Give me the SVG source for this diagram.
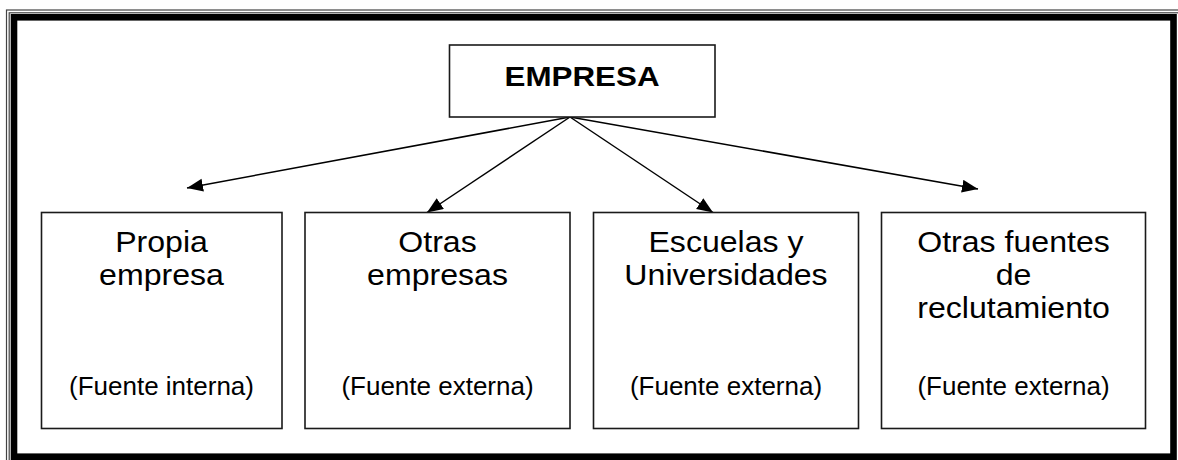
<svg xmlns="http://www.w3.org/2000/svg" width="1178" height="460" viewBox="0 0 1178 460">
<style>
.box{fill:#fff;stroke:#1a1a1a;stroke-width:1.6}
.t{font-family:"Liberation Sans",Arial,sans-serif;font-size:30px;fill:#000;text-anchor:middle}
.s{font-family:"Liberation Sans",Arial,sans-serif;font-size:26px;fill:#000;text-anchor:middle}
.b{font-family:"Liberation Sans",Arial,sans-serif;font-size:28px;font-weight:bold;fill:#000;text-anchor:middle}
.c{stroke:#000;stroke-width:1.5;fill:none;marker-end:url(#ah)}
</style>
<defs>
<marker id="ah" markerUnits="userSpaceOnUse" markerWidth="18" markerHeight="14" refX="16" refY="6.5" orient="auto">
<path d="M0,0 L16,6.5 L0,13 Z" fill="#000"/>
</marker>
</defs>
<rect width="1178" height="460" fill="#fff"/>
<g id="frame" fill="none">
<rect x="6.5" y="10" width="1190" height="470" stroke="#444" stroke-width="1.2"/>
<rect x="9.2" y="12.8" width="1185" height="465" stroke="#444" stroke-width="1.2"/>
<rect x="14" y="17.3" width="1159.5" height="439.4" stroke="#000" stroke-width="6.6"/>
</g>
<g id="connectors">
<line class="c" x1="570" y1="117" x2="187" y2="188"/>
<line class="c" x1="570" y1="117" x2="427" y2="212.5"/>
<line class="c" x1="570" y1="117" x2="713" y2="212.5"/>
<line class="c" x1="570" y1="117" x2="978" y2="189"/>
</g>
<g id="empresa">
<rect class="box" x="449.5" y="45" width="265.5" height="72"/>
<text class="b" transform="translate(582 86) scale(1.12 1)">EMPRESA</text>
</g>
<g id="propia">
<rect class="box" x="41.5" y="212.5" width="240.5" height="216"/>
<g transform="translate(161.5 0) scale(1.07 1)">
<text class="t" y="252">Propia</text>
<text class="t" y="285">empresa</text>
</g>
<text class="s" x="161.5" y="395">(Fuente interna)</text>
</g>
<g id="otras">
<rect class="box" x="305" y="212.5" width="265" height="216"/>
<g transform="translate(437.5 0) scale(1.07 1)">
<text class="t" y="252">Otras</text>
<text class="t" y="285">empresas</text>
</g>
<text class="s" x="437.5" y="395">(Fuente externa)</text>
</g>
<g id="escuelas">
<rect class="box" x="593.5" y="212.5" width="265" height="216"/>
<g transform="translate(726 0) scale(1.07 1)">
<text class="t" y="252">Escuelas y</text>
<text class="t" y="285">Universidades</text>
</g>
<text class="s" x="726" y="395">(Fuente externa)</text>
</g>
<g id="fuentes">
<rect class="box" x="881.5" y="212.5" width="264" height="216"/>
<g transform="translate(1013.5 0) scale(1.07 1)">
<text class="t" y="252">Otras fuentes</text>
<text class="t" y="285">de</text>
<text class="t" y="318">reclutamiento</text>
</g>
<text class="s" x="1013.5" y="395">(Fuente externa)</text>
</g>
</svg>
